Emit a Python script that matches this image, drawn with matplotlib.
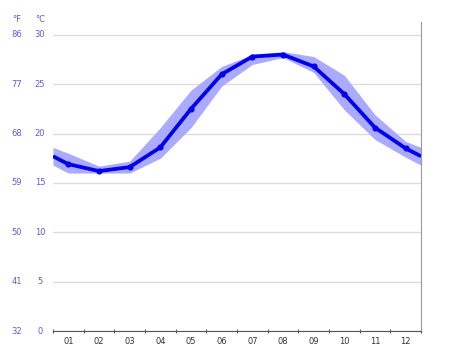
import matplotlib
matplotlib.use("Agg")
import matplotlib.pyplot as plt
import matplotlib.transforms as mtransforms

months = ["01", "02", "03", "04", "05", "06", "07", "08", "09", "10", "11", "12"]
temp_mean = [16.9, 16.2, 16.6, 18.6, 22.5, 26.0, 27.8, 28.0, 26.8, 24.0, 20.6, 18.5]
temp_upper = [18.0, 16.7, 17.2, 20.6, 24.4, 26.8, 28.0, 28.3, 27.8, 25.9, 21.9, 19.2]
temp_lower = [16.0, 16.0, 16.0, 17.5, 20.6, 24.8, 27.0, 27.7, 26.2, 22.4, 19.4, 17.6]
c_ticks = [0, 5, 10, 15, 20, 25, 30]


def wrap(vals):
    # extend the curve to both edges using the Dec/Jan average
    edge = (vals[0] + vals[-1]) / 2
    return [edge] + list(vals) + [edge]


x = [0] + [i + 0.5 for i in range(12)] + [12]

fig = plt.figure(figsize=(4.74, 3.55), dpi=100)
ax = fig.add_axes([53 / 474, 24 / 355, 368 / 474, 309 / 355])

ax.fill_between(x, wrap(temp_lower), wrap(temp_upper), color="#aaaaff", lw=0, zorder=2)
ax.plot(x, wrap(temp_mean), color="#0000ee", lw=2.7, zorder=3, solid_capstyle="butt")
ax.plot(x[1:-1], temp_mean, "o", color="#0000ee", ms=3.4, zorder=4)

ax.set_xlim(0, 12)
ax.set_ylim(0, 31.3)
ax.set_yticks(c_ticks)
ax.yaxis.grid(True, color="#dddddd", lw=1)
ax.set_axisbelow(True)
ax.tick_params(axis="y", length=0, labelleft=False)

ax.set_xticks(range(13))
ax.set_xticklabels([])
ax.set_xticks([i + 0.5 for i in range(12)], minor=True)
ax.set_xticklabels(months, minor=True)
ax.tick_params(axis="x", which="major", length=3, direction="inout", color="#555555", width=0.8)
ax.tick_params(axis="x", which="minor", length=0, labelsize=6, labelcolor="#333333", pad=4)

ax.spines["top"].set_visible(False)
ax.spines["left"].set_visible(False)
ax.spines["right"].set_color("#999999")
ax.spines["bottom"].set_color("#555555")

label_color = "#5c5cdd"
trans = mtransforms.blended_transform_factory(fig.transFigure, ax.transData)
for c in c_ticks:
    f = round(c * 9 / 5 + 32)
    ax.text(40 / 474, c, str(c), transform=trans, ha="center", va="center",
            fontsize=6, color=label_color)
    ax.text(17 / 474, c, str(f), transform=trans, ha="center", va="center",
            fontsize=6, color=label_color)
fig.text(40 / 474, 1 - 20 / 355, "°C", ha="center", va="center", fontsize=6, color=label_color)
fig.text(17 / 474, 1 - 20 / 355, "°F", ha="center", va="center", fontsize=6, color=label_color)

fig.savefig("out.png", dpi=100, facecolor="white")
